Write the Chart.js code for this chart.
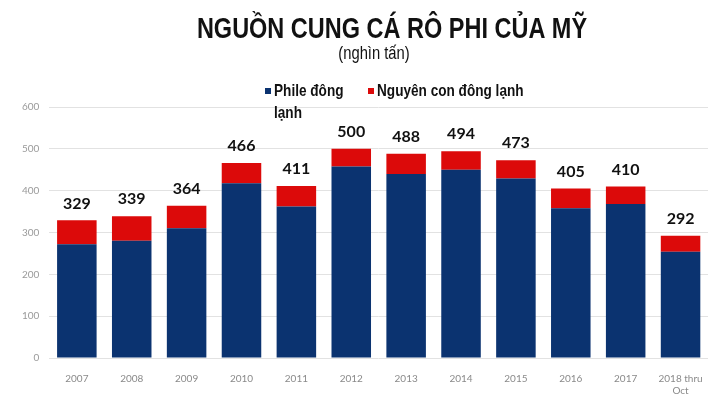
<!DOCTYPE html>
<html>
<head>
<meta charset="utf-8">
<script src="https://cdn.jsdelivr.net/npm/chart.js@4.4.1/dist/chart.umd.min.js"></script>
<style>
  html, body { margin: 0; padding: 0; background: #fff; }
  #wrap { width: 720px; height: 409px; }
</style>
</head>
<body>
<div id="wrap"><canvas id="myChart"></canvas></div>
<script>
// Dữ liệu
const years = ['2007', '2008', '2009', '2010', '2011', '2012', '2013', '2014', '2015', '2016', '2017', ['2018 thru', 'Oct']];
const phile = [272, 280, 310, 418, 362, 458, 440, 450, 429, 358, 368, 254];
const nguyenCon = [57, 59, 54, 48, 49, 42, 48, 44, 44, 47, 42, 38];
const totals = [329, 339, 364, 466, 411, 500, 488, 494, 473, 405, 410, 292];
const yTicks = [0, 100, 200, 300, 400, 500, 600];

const seriesNames = ['Phile đông lạnh', 'Nguyên con đông lạnh'];
const legendLines = [['Phile đông', 'lạnh'], ['Nguyên con đông lạnh']];
const titleText = 'NGUỒN CUNG CÁ RÔ PHI CỦA MỸ';
const subtitleText = '(nghìn tấn)';

const navy = '#0b3370';
const red = '#dc0a0a';
const sans = "'Liberation Sans', Arial, sans-serif";

// viết chữ hẹp (giống Arial Narrow) bằng cách co ngang
function narrowText(ctx, text, x, y, sx) {
    ctx.save();
    ctx.translate(x, y);
    ctx.scale(sx, 1);
    ctx.fillText(text, 0, 0);
    ctx.restore();
}

// Tiêu đề, chú thích tự vẽ
const headerPlugin = {
    id: 'header',
    afterDraw(chart) {
        const ctx = chart.ctx;
        ctx.save();
        ctx.fillStyle = '#111';
        ctx.textAlign = 'center';
        ctx.textBaseline = 'middle';
        ctx.font = 'bold 29px ' + sans;
        narrowText(ctx, titleText, 392, 30, 0.81);
        ctx.font = '18px ' + sans;
        narrowText(ctx, subtitleText, 374, 54, 0.82);

        // chú thích
        const items = [{ x: 268 }, { x: 371 }];
        ctx.font = 'bold 17px ' + sans;
        ctx.textAlign = 'left';
        items.forEach((it, i) => {
            ctx.fillStyle = chart.data.datasets[i].backgroundColor;
            ctx.fillRect(it.x - 3, 88, 6, 6);
            ctx.fillStyle = '#111';
            legendLines[i].forEach((line, j) => {
                narrowText(ctx, line, it.x + 6, 91 + j * 22, 0.8);
            });
        });
        ctx.restore();
    }
};

// Nhãn tổng trên đầu cột
const totalsPlugin = {
    id: 'totals',
    afterDatasetsDraw(chart) {
        const ctx = chart.ctx;
        const xScale = chart.scales.x;
        const yScale = chart.scales.y;
        ctx.save();
        ctx.font = 'bold 16px Lato, sans-serif';
        ctx.fillStyle = '#111';
        ctx.textAlign = 'center';
        ctx.textBaseline = 'middle';
        totals.forEach((t, i) => {
            ctx.fillText(String(t), xScale.getPixelForValue(i), yScale.getPixelForValue(t) - 17);
        });
        ctx.restore();
    }
};

const ctx = document.getElementById('myChart').getContext('2d');
const myChart = new Chart(ctx, {
    type: 'bar',
    data: {
        labels: years,
        datasets: [{
            label: seriesNames[0],
            data: phile,
            backgroundColor: navy,
            stack: 's'
        }, {
            label: seriesNames[1],
            data: nguyenCon,
            backgroundColor: red,
            stack: 's'
        }]
    },
    options: {
        responsive: true,
        maintainAspectRatio: false,
        animation: false,
        layout: {
            padding: { top: 107, left: 12, right: 12, bottom: 5 }
        },
        plugins: {
            legend: { display: false },
            tooltip: { enabled: false },
            title: { display: false }
        },
        scales: {
            x: {
                stacked: true,
                grid: { display: false },
                border: { display: false },
                ticks: {
                    color: '#8a8a8a',
                    font: { family: 'Lato, sans-serif', size: 10 },
                    maxRotation: 0,
                    autoSkip: false,
                    padding: 7
                },
                categoryPercentage: 0.8,
                barPercentage: 0.78
            },
            y: {
                stacked: true,
                min: 0,
                max: 600,
                afterBuildTicks(axis) {
                    axis.ticks = yTicks.map(v => ({ value: v }));
                },
                grid: { color: '#e2e2e2', lineWidth: 1, drawTicks: false },
                border: { display: false },
                ticks: {
                    color: '#9a9a9a',
                    font: { family: 'Lato, sans-serif', size: 10 },
                    padding: 10
                }
            }
        }
    },
    plugins: [headerPlugin, totalsPlugin]
});
</script>
</body>
</html>
